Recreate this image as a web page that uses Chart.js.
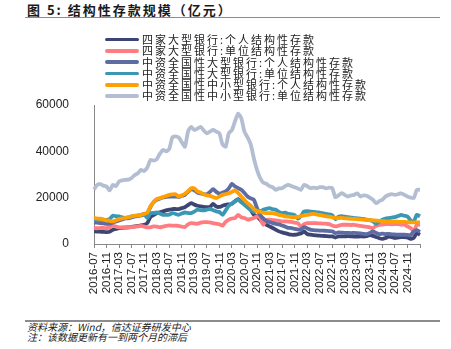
<!DOCTYPE html>
<html>
<head>
<meta charset="utf-8">
<script src="https://cdn.jsdelivr.net/npm/chart.js@4"></script>
<style>
  body { margin: 0; width: 451px; height: 349px; background: #fff; position: relative; overflow: hidden; font-family: "Noto Sans CJK SC", sans-serif; }
  #title { position: absolute; left: 27px; top: 0px; font-size: 13px; font-weight: bold; letter-spacing: 2px; color: #1a1a1a; white-space: nowrap; }
  .rule { position: absolute; left: 25px; width: 415px; height: 1.5px; background: #8c8c8c; }
  #legend { position: absolute; left: 105px; top: 34px; font-size: 11px; letter-spacing: 2px; color: #222; }
  #legend div { height: 11.3px; line-height: 11.3px; display: flex; align-items: center; white-space: nowrap; }
  #legend .sw { display: inline-block; width: 34px; height: 3.5px; margin-right: 3px; border-radius: 2px; }
  #note { position: absolute; left: 27px; top: 322px; font-size: 10px; font-style: italic; line-height: 10px; color: #222; white-space: nowrap; }
  canvas { position: absolute; left: 0; top: 0; }
</style>
</head>
<body>
<div id="title">图 5: 结构性存款规模（亿元）</div>
<div class="rule" style="top:16.5px"></div>
<canvas id="chart" width="451" height="305"></canvas>
<div id="legend"></div>
<div class="rule" style="top:320px"></div>
<div id="note">资料来源：Wind，信达证券研发中心<br>注：该数据更新有一到两个月的滞后</div>
<script>
// monthly categories 2016-07 .. 2025-03
const months = [];
for (let y = 2016; y <= 2025; y++) {
  for (let m = 1; m <= 12; m++) {
    if (y === 2016 && m < 7) continue;
    if (y === 2025 && m > 3) break;
    months.push(y + '-' + String(m).padStart(2, '0'));
  }
}

const yTicks = [0, 20000, 40000, 60000];

const names = [
  '四家大型银行:个人结构性存款',
  '四家大型银行:单位结构性存款',
  '中资全国性大型银行:个人结构性存款',
  '中资全国性大型银行:单位结构性存款',
  '中资全国性中小型银行:个人结构性存款',
  '中资全国性中小型银行:单位结构性存款'
];
const colors = ['#3d4673', '#ff7c80', '#5d6ca3', '#3a98b4', '#ffa000', '#b4bed3'];

const bigPersonal = [5450,5400,5300,5200,5150,5300,6150,6500,6900,7000,
  7100,7170,7400,7600,7800,8000,8300,9000,11600,12500,
  13300,13700,14100,14500,14800,15100,15100,15100,15500,15900,
  16800,17600,17000,16500,16200,16000,15900,16000,17300,16200,
  16000,16500,16900,17100,17300,18500,19400,18200,17600,16000,
  14800,12600,11900,10500,9000,8300,7600,6900,6150,5450,
  5000,4700,4300,4000,4000,4200,4500,5400,4300,4000,
  3800,3700,3600,3500,3400,3300,3300,2800,3300,3300,
  3300,3400,3300,3200,3200,3300,3200,3400,3800,3500,
  3000,2500,2200,2600,3200,3000,2600,2800,3000,3000,
  2800,2200,2600,4700,4000];

const bigCorporate = [6900,6800,6900,6900,6800,7200,7900,7500,7200,7200,
  7200,7300,7300,7500,7600,7800,7500,7200,7200,7600,
  7500,7200,7500,7800,8000,7900,7900,7800,7500,7300,
  8500,9000,8900,8750,9200,9450,9400,9300,9000,8750,
  8500,7900,9500,10500,11000,11200,12600,11500,11200,10500,
  10800,11200,11900,11200,8300,10500,10500,10300,10200,10000,
  9750,9750,9700,9500,9200,9000,7600,8500,9000,9000,
  9000,9000,8900,8800,8750,8600,8000,7600,7900,8300,
  8300,8300,8200,8300,8000,7800,7600,7400,7200,6900,
  7800,8300,8400,8600,8600,8500,8600,8600,8400,8300,
  7600,6900,5450,8300,8300];

const natBigPersonal = [9300,9200,9000,8900,8750,8800,9300,9700,10200,10600,
  11000,11200,11500,11900,12100,12300,12800,13300,16000,18000,
  19100,19600,20100,20300,20500,20500,20500,20300,20800,21200,
  22500,23700,23200,22200,21800,21500,21500,22500,23700,22500,
  21700,22200,22700,24000,26000,24800,24100,23400,22000,20500,
  19700,19100,15500,12500,11000,10000,9500,9000,8700,8500,
  8000,7500,7000,6900,6500,6300,6150,7300,6800,6200,
  6000,5900,5800,5800,5700,5600,5500,4700,5000,4900,
  4800,4800,4700,4800,4700,4600,4400,4300,4700,5400,
  4700,4300,4500,4300,4400,4200,4100,4000,4000,4000,
  3900,3800,5400,6000,5200];

const natBigCorporate = [10500,10400,10300,10200,10400,10800,12200,12000,11900,11500,
  11200,11400,11900,12000,12200,12500,13000,11200,13300,13400,
  13600,13200,12600,12600,12700,13300,13000,12600,13200,13600,
  13400,13300,14000,14800,14600,14500,14800,15100,14600,14100,
  13800,12600,14500,16500,17500,18400,19100,18000,16900,15800,
  14800,13800,14500,14100,14800,15200,15500,15000,14800,13800,
  13300,13500,13000,12800,12500,11000,12000,14000,14200,14000,
  13900,13700,13500,13300,13000,12800,12400,10750,11800,12000,
  11800,11600,11400,11200,11100,11000,10800,10500,10300,9750,
  8700,9800,10500,11000,11200,11400,11600,12100,12600,12200,
  11900,10200,9750,12600,11900];

const smallPersonal = [11200,11000,10900,10600,10200,10000,9750,10200,10750,11000,
  11300,11600,11900,12200,12400,12600,13000,13500,16200,18000,
  19400,19800,20200,20700,21200,21400,21500,20500,21000,21700,
  22800,24100,24000,22700,22200,21500,21000,20800,20300,19800,
  20500,21200,21500,21900,22500,23100,22000,20500,19000,17600,
  16500,15100,14100,14000,13500,13300,13300,13300,13000,12600,
  12300,11900,11800,11600,11600,11700,12000,12400,12600,12800,
  13000,12800,12500,12200,12000,11800,11500,11300,11200,11300,
  11100,11000,10900,10800,10700,10600,10500,10400,10300,10200,
  10100,10000,9900,9800,9700,9700,9600,9600,9500,9500,
  9400,9300,9300,9300,9400];

const smallCorporate = [23500,25500,25800,25200,24800,23100,25500,25000,27000,27500,
  27700,27800,28500,29800,30500,32000,31500,33000,36300,36000,
  36600,38900,40600,40000,41000,46000,46500,46000,44000,42000,
  48500,50600,49200,49800,50600,49000,47800,48500,49200,48500,
  47800,43000,42000,47800,49200,53000,56300,54200,48500,46000,
  43000,37000,32000,28500,26500,26000,25000,24500,23400,24000,
  24100,25000,25500,25000,24500,24000,23400,25500,25000,24100,
  24300,24100,24500,24500,24000,24300,24100,20200,21000,21900,
  21200,20500,21000,21200,21900,20500,21000,20800,20000,19100,
  17600,18500,19100,20500,21200,21500,21200,21500,21900,21200,
  20500,20000,19800,23400,23400];

const series = [bigPersonal, bigCorporate, natBigPersonal, natBigCorporate, smallPersonal, smallCorporate];

// legend as html so the wide letter spacing can be matched
const legend = document.getElementById('legend');
names.forEach(function(name, i) {
  const row = document.createElement('div');
  row.innerHTML = '<span class="sw" style="background:' + colors[i] + '"></span>' + name;
  legend.appendChild(row);
});

new Chart(document.getElementById('chart'), {
  type: 'line',
  data: {
    labels: months,
    datasets: series.map(function(data, i) {
      return {
        label: names[i],
        data: data,
        borderColor: colors[i],
        backgroundColor: colors[i],
        borderWidth: 3.8,
        pointRadius: 0,
        tension: 0.2,
        order: names.length - i
      };
    })
  },
  options: {
    responsive: false,
    animation: false,
    devicePixelRatio: 1,
    layout: { padding: { top: 105, left: 20, right: 31, bottom: 5 } },
    plugins: { legend: { display: false }, tooltip: { enabled: false } },
    scales: {
      x: {
        grid: { display: true, drawOnChartArea: false, tickLength: 4, color: '#888' },
        border: { color: '#888' },
        ticks: {
          autoSkip: false,
          maxRotation: 90,
          minRotation: 90,
          padding: 4,
          color: '#222',
          font: { family: 'Liberation Sans', size: 11.5 },
          callback: function(v, i) {
            if (i % 4 !== 0) return null;
            return i < months.length - 1 ? months[i] : '';
          }
        },
        afterFit: function(s) { s.height = 56; }
      },
      y: {
        min: yTicks[0],
        max: yTicks[yTicks.length - 1],
        grid: { display: false },
        border: { color: '#888' },
        ticks: {
          stepSize: yTicks[1] - yTicks[0],
          padding: 17,
          color: '#222',
          font: { family: 'Liberation Sans', size: 12 },
          callback: function(v) { return String(v); }
        },
        afterFit: function(s) { s.width = 74; }
      }
    }
  }
});
</script>
</body>
</html>
